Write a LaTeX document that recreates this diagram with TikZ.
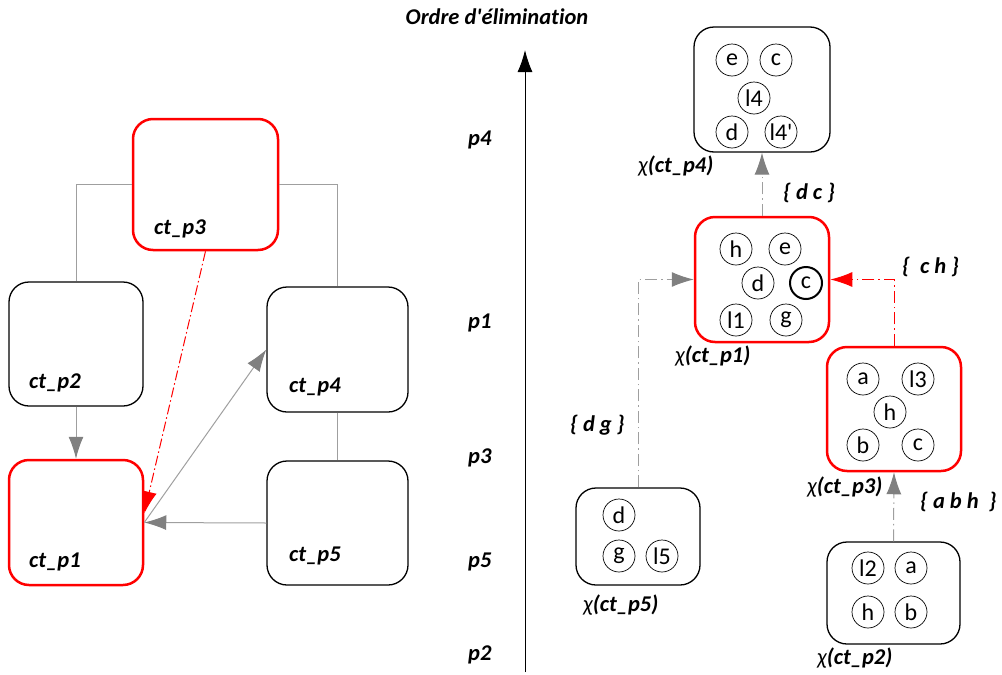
\documentclass[tikz,border=0pt]{standalone}
\usepackage{fontspec}
\setmainfont{Carlito}[Ligatures=NoCommon]
\usepackage{tikz}
\usetikzlibrary{arrows.meta}

\begin{document}
\begin{tikzpicture}[x=1pt, y=-1pt,
  box/.style={draw, rounded corners=20pt, line width=1.3pt, inner sep=0pt},
  redbox/.style={box, draw=red, line width=2.5pt},
  sz/.style 2 args={minimum width=#1, minimum height=#2},
  var/.style={draw, circle, minimum size=32pt, inner sep=0pt, line width=0.7pt, font=\fontsize{24}{28}\selectfont},
  lab/.style={anchor=west, inner sep=0pt, font=\fontsize{22.5}{27}\selectfont\bfseries\itshape},
  link/.style={draw=gray!75, line width=1pt},
  tip/.style={-{Latex[length=22pt,width=15pt]}},
  dd/.style={dash pattern=on 12pt off 4pt on 1.5pt off 4pt}]
\useasboundingbox (0,0) rectangle (1002,675);
% graphe des clusters
\node[redbox, sz={145pt}{131pt}] (p3) at (205.5,184.5) {};
\node[box, sz={134pt}{124pt}] (p2) at (76,344) {};
\node[box, sz={141pt}{125pt}] (p4) at (337.5,349.5) {};
\node[redbox, sz={134pt}{125pt}] (p1) at (76,522.5) {};
\node[box, sz={141pt}{124pt}] (p5) at (337.5,523) {};
\node[lab] at (154,229) {ct\_p3};
\node[lab] at (29,383) {ct\_p2};
\node[lab] at (289,387) {ct\_p4};
\node[lab] at (29,562) {ct\_p1};
\node[lab] at (289,556) {ct\_p5};
\draw[link] (p3.west) -| (p2.north);
\draw[link] (p3.east) -| (p4.north);
\draw[link] (p4.south) -- (p5.north);
\draw[link, -{Latex[length=22pt,width=15pt,color=gray]}] (p2.south) -- (p1.north);
\draw[link, -{Latex[length=22pt,width=15pt,color=gray]}] (p5.west) -- (p1.east);
\draw[link, -{Latex[length=22pt,width=15pt,color=gray]}] (p1.east) -- (p4.west);
\draw[red, line width=1pt, dash pattern=on 10pt off 3pt on 1.5pt off 3pt, tip] (p3.south) -- ([yshift=9pt]p1.east);
% axe
\node[lab, anchor=center] (title) at (497,17) {Ordre d\textquotesingle élimination};
\coordinate (axb) at (525,672);
\coordinate (axt) at (525,50);
\draw[line width=1pt, tip] (axb) -- (axt);
\node[lab] at (468,140) {p4};
\node[lab] at (468,323) {p1};
\node[lab] at (468,458) {p3};
\node[lab] at (468,562) {p5};
\node[lab] at (468,655) {p2};
% arbre d'elimination
\node[box, sz={136pt}{125pt}] (x4) at (762,89.5) {};
\node[redbox, sz={134pt}{125pt}] (x1) at (762,279.5) {};
\node[redbox, sz={134pt}{124pt}] (x3) at (894,409) {};
\node[box, sz={124pt}{97pt}] (x5) at (638,536.5) {};
\node[box, sz={133pt}{102pt}] (x2) at (893.5,593) {};
\node[var] (x4e) at (732,60) {e};
\node[var] (x4c) at (776,60) {c};
\node[var] (x4l) at (754,98) {l4};
\node[var] (x4d) at (732,132) {d};
\node[var] (x4m) at (781,132) {l4\textquotesingle};
\node[var] (x1h) at (736,249) {h};
\node[var] (x1e) at (785,249) {e};
\node[var] (x1d) at (758,283) {d};
\node[var, line width=2pt] (x1c) at (806,283) {c};
\node[var] (x1l) at (736,320) {l1};
\node[var] (x1g) at (786,320) {g};
\node[var] (x3a) at (863,379) {a};
\node[var] (x3l) at (918,379) {l3};
\node[var] (x3h) at (890,412) {h};
\node[var] (x3b) at (863,445) {b};
\node[var] (x3c) at (918,445) {c};
\node[var] (x5d) at (619,515) {d};
\node[var] (x5g) at (619,556) {g};
\node[var] (x5l) at (662,556) {l5};
\node[var] (x2l) at (868,568) {l2};
\node[var] (x2a) at (911,568) {a};
\node[var] (x2h) at (868,612) {h};
\node[var] (x2b) at (911,612) {b};
\node[lab] at (638,166) {{\mdseries χ}(ct\_p4)};
\node[lab] at (675,356) {{\mdseries χ}(ct\_p1)};
\node[lab] at (807,487) {{\mdseries χ}(ct\_p3)};
\node[lab] at (583,605) {{\mdseries χ}(ct\_p5)};
\node[lab] at (817,658) {{\mdseries χ}(ct\_p2)};
\draw[link, dd, -{Latex[length=22pt,width=15pt,color=gray]}] (x1.north) -- (x4.south);
\draw[link, dd, -{Latex[length=22pt,width=15pt,color=gray]}] (x5.north) |- (x1.west);
\draw[red, line width=1pt, dd, tip] (x3.north) |- (x1.east);
\draw[link, dd, -{Latex[length=22pt,width=15pt,color=gray]}] (x2.north) -- (x3.south);
\node[lab] at (783,193) {\{ d c \}};
\node[lab] at (902,267) {\{ \ c h \}};
\node[lab] at (920,502) {\{ a b h \ \}};
\node[lab] at (570,425) {\{ d g \}};
\end{tikzpicture}
\end{document}
